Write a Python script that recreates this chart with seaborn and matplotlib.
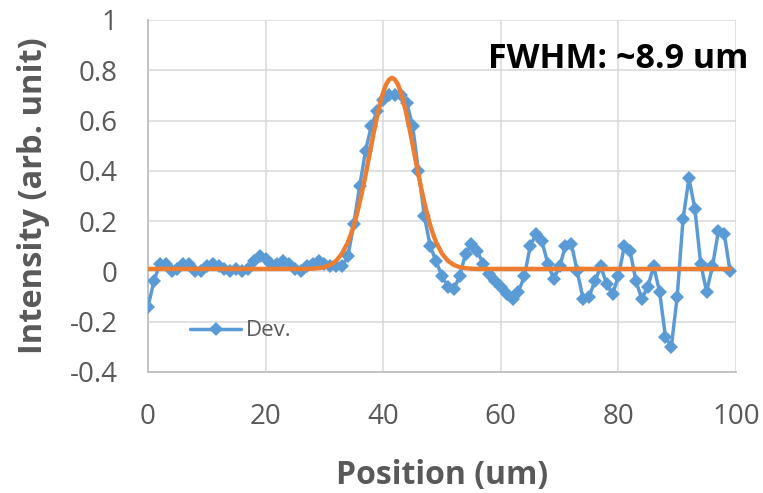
import matplotlib
matplotlib.use("Agg")
import matplotlib.pyplot as plt
import seaborn as sns
import pandas as pd
from matplotlib.lines import Line2D

# Measured data (Dev.)
positions = list(range(0, 100))
dev_values = [
    -0.14, -0.04, 0.03, 0.03, 0.00, 0.01, 0.03, 0.03, 0.00, 0.00,
    0.02, 0.03, 0.02, 0.01, 0.00, 0.01, 0.00, 0.01, 0.04, 0.06,
    0.05, 0.03, 0.03, 0.04, 0.03, 0.01, 0.00, 0.02, 0.03, 0.04,
    0.03, 0.02, 0.02, 0.02, 0.06, 0.19, 0.34, 0.48, 0.58, 0.64,
    0.68, 0.70, 0.70, 0.70, 0.67, 0.58, 0.40, 0.22, 0.10, 0.04,
    -0.02, -0.06, -0.07, -0.02, 0.07, 0.11, 0.08, 0.03, -0.01, -0.04,
    -0.06, -0.09, -0.11, -0.08, -0.02, 0.10, 0.15, 0.12, 0.03, -0.03,
    0.02, 0.10, 0.11, 0.00, -0.11, -0.10, -0.04, 0.02, -0.05, -0.09,
    -0.02, 0.10, 0.08, -0.04, -0.11, -0.06, 0.02, -0.08, -0.26, -0.30,
    -0.10, 0.21, 0.37, 0.25, 0.03, -0.08, 0.02, 0.16, 0.15, 0.00,
]

# Fitted curve
fit_x = [0, 5, 10, 15, 20, 25, 27, 28, 29, 30, 31, 32, 33, 34, 34.5,
         35, 35.5, 36, 36.5, 37, 37.5, 38, 38.5, 39, 39.5, 40, 40.5,
         41, 41.5, 42, 42.5, 43, 43.5, 44, 44.5, 45, 45.5, 46, 46.5,
         47, 47.5, 48, 48.5, 49, 50, 51, 52, 53, 54, 55, 56, 60, 70,
         80, 90, 99]
fit_y = [0.010, 0.010, 0.010, 0.010, 0.010, 0.010, 0.010, 0.011, 0.013,
         0.017, 0.026, 0.042, 0.071, 0.116, 0.147,
         0.183, 0.226, 0.274, 0.327, 0.384, 0.444, 0.505, 0.565, 0.621,
         0.671, 0.712, 0.744,
         0.763, 0.770, 0.763, 0.744, 0.712, 0.671, 0.621, 0.565, 0.505,
         0.444, 0.384, 0.327,
         0.274, 0.226, 0.183, 0.147, 0.116, 0.071, 0.042, 0.026, 0.017,
         0.013, 0.011, 0.010, 0.010, 0.010,
         0.010, 0.010, 0.010]

x_ticks = [0, 20, 40, 60, 80, 100]
y_ticks = [-0.4, -0.2, 0, 0.2, 0.4, 0.6, 0.8, 1]
y_tick_labels = ["-0.4", "-0.2", "0", "0.2", "0.4", "0.6", "0.8", "1"]

sns.set_theme(style="white")
plt.rcParams["font.family"] = ["Open Sans", "DejaVu Sans"]

BLUE = "#5B9BD5"
ORANGE = "#ED7D31"
GRAY_TXT = "#595959"

fig = plt.figure(figsize=(7.63, 4.93), dpi=100)
ax = fig.add_axes([148 / 763, 1 - 372 / 493, (736 - 148) / 763, (372 - 20) / 493])

dev_df = pd.DataFrame({"Position": positions, "Intensity": dev_values})
fit_df = pd.DataFrame({"Position": fit_x, "Intensity": fit_y})

sns.lineplot(data=dev_df, x="Position", y="Intensity", ax=ax, color=BLUE,
             linewidth=2.5, marker="D", markersize=7.5, markeredgewidth=0,
             zorder=3, legend=False)
sns.lineplot(data=fit_df, x="Position", y="Intensity", ax=ax, color=ORANGE,
             linewidth=3.2, zorder=4, legend=False)

ax.set_xlim(0, 100)
ax.set_ylim(-0.4, 1)
ax.set_xticks(x_ticks)
ax.set_yticks(y_ticks)
ax.set_yticklabels(y_tick_labels)
ax.grid(True, color="#d9d9d9", linewidth=1.1)
ax.set_axisbelow(True)
for side in ["top", "right"]:
    ax.spines[side].set_visible(False)
for side in ["left", "bottom"]:
    ax.spines[side].set_color("#bfbfbf")
    ax.spines[side].set_linewidth(1.3)

ax.tick_params(axis="both", length=0, labelsize=20, labelcolor=GRAY_TXT)
ax.tick_params(axis="x", pad=22)
ax.tick_params(axis="y", pad=22)

ax.set_xlabel("Position (um)", fontsize=23, fontweight="bold", color=GRAY_TXT)
ax.set_ylabel("Intensity (arb. unit)", fontsize=23.5, fontweight="bold", color=GRAY_TXT)
ax.xaxis.set_label_coords(0.5, (372 - 459) / 352)
ax.yaxis.set_label_coords((50 - 148) / 588, 0.5)

handle = Line2D([], [], color=BLUE, linewidth=2.5, marker="D", markersize=7.5,
                markeredgewidth=0)
leg = ax.legend([handle], ["Dev."], loc="center left",
                bbox_to_anchor=((190 - 148) / 588, (372 - 331) / 352),
                frameon=False, fontsize=16,
                handlelength=2.3, handletextpad=0.22, borderaxespad=0,
                borderpad=0)
for t in leg.get_texts():
    t.set_color(GRAY_TXT)

fig.text(618 / 763, 1 - 68 / 493, "FWHM: ~8.9 um", fontsize=24.5,
         fontweight="bold", color="black", ha="center", va="baseline")

fig.savefig("out.png", dpi=100)
